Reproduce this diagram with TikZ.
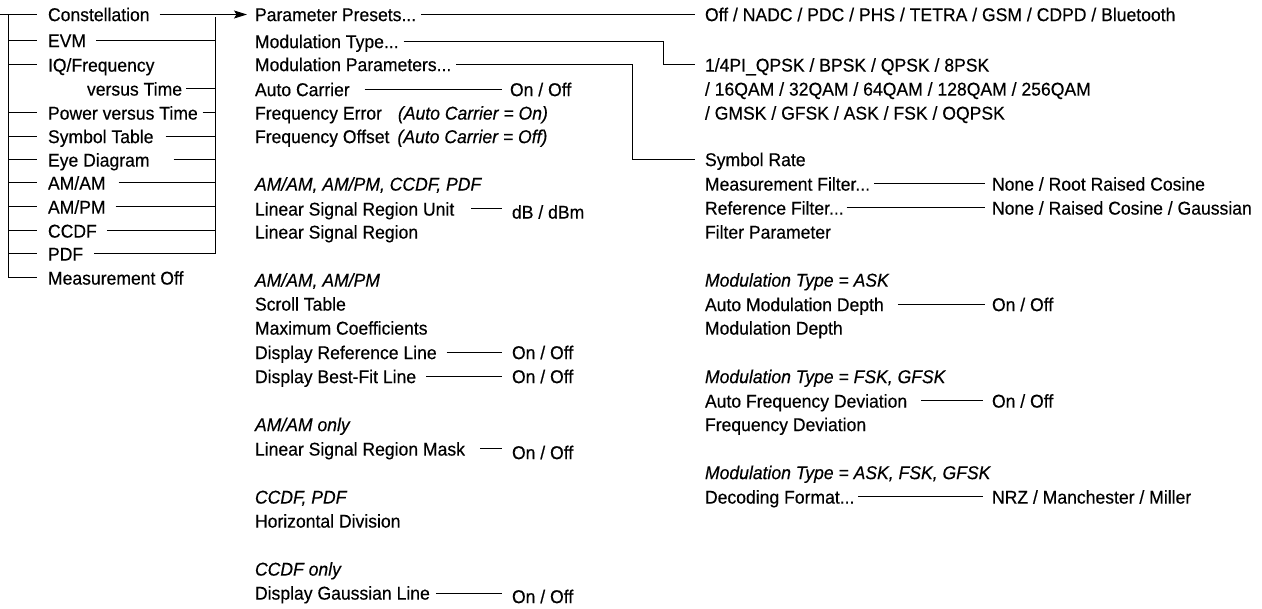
\documentclass[tikz,border=0pt]{standalone}
\usepackage{fontspec}
\setmainfont[FakeStretch=0.95,FakeBold=0.35]{Liberation Sans}
\usetikzlibrary{arrows.meta}
\begin{document}
\begin{tikzpicture}[x=1pt,y=-1pt,line width=1pt,
  every node/.style={font=\fontsize{18.5}{21}\selectfont,inner sep=0pt,outer sep=0pt,
    anchor=west,text height=13.2pt,text depth=0pt},
  it/.style={font=\fontsize{18.5}{21}\selectfont\itshape},
  arr/.style={-{Stealth[length=13pt,width=8pt,inset=2.5pt]}}]
\useasboundingbox[fill=white] (0,0) rectangle (1262,609);
% column 1
\node (c1) at (48,14.5) {Constellation};
\node (c2) at (48,40.5) {EVM};
\node (c3) at (48,65) {IQ/Frequency};
\node (c3b) at (87,89) {versus Time};
\node (c4) at (48,113) {Power versus Time};
\node (c5) at (48,136.5) {Symbol Table};
\node (c6) at (48,160) {Eye Diagram};
\node (c7) at (48,183) {AM/AM};
\node (c8) at (48,207) {AM/PM};
\node (c9) at (48,231) {CCDF};
\node (c10) at (48,254) {PDF};
\node (c11) at (48,278) {Measurement Off};
% column 2
\node (p0) at (255,14.5) {Parameter Presets...};
\node (p1) at (255,41.5) {Modulation Type...};
\node (p2) at (255,64.5) {Modulation Parameters...};
\node (p3) at (255,89.5) {Auto Carrier};
\node (p4) at (255,113) {Frequency Error};
\node[it] (p4n) at ([xshift=16pt]p4.east) {(Auto Carrier = On)};
\node (p5) at (255,136.5) {Frequency Offset};
\node[it] (p5n) at ([xshift=8pt]p5.east) {(Auto Carrier = Off)};
\node[it] (p7) at (255,184) {AM/AM, AM/PM, CCDF, PDF};
\node (p8) at (255,209) {Linear Signal Region Unit};
\node (p9) at (255,232) {Linear Signal Region};
\node[it] (p11) at (255,280) {AM/AM, AM/PM};
\node (p12) at (255,304) {Scroll Table};
\node (p13) at (255,328) {Maximum Coefficients};
\node (p14) at (255,352.5) {Display Reference Line};
\node (p15) at (255,376.5) {Display Best-Fit Line};
\node[it] (p17) at (255,424.5) {AM/AM only};
\node (p18) at (255,449) {Linear Signal Region Mask};
\node[it] (p20) at (255,497) {CCDF, PDF};
\node (p21) at (255,521) {Horizontal Division};
\node[it] (p23) at (255,569) {CCDF only};
\node (p24) at (255,593) {Display Gaussian Line};
% values of column 2
\node (v3) at (510,89.5) {On / Off};
\node (v8) at (512,212) {dB / dBm};
\node (v14) at (512,352.5) {On / Off};
\node (v15) at (512,376.5) {On / Off};
\node (v18) at (512,452.5) {On / Off};
\node (v24) at (512,596.5) {On / Off};
% column 3
\node (q0) at (705,14.5) {Off / NADC / PDC / PHS / TETRA / GSM / CDPD / Bluetooth};
\node (m1) at (705,65) {1/4PI\_QPSK / BPSK / QPSK / 8PSK};
\node (m2) at (705,89) {/ 16QAM / 32QAM / 64QAM / 128QAM / 256QAM};
\node (m3) at (705,113) {/ GMSK / GFSK / ASK / FSK / OQPSK};
\node (s6) at (705,159.5) {Symbol Rate};
\node (s7) at (705,184) {Measurement Filter...};
\node (s8) at (705,208) {Reference Filter...};
\node (s9) at (705,232) {Filter Parameter};
\node[it] (s11) at (705,280) {Modulation Type = ASK};
\node (s12) at (705,304.5) {Auto Modulation Depth};
\node (s13) at (705,328) {Modulation Depth};
\node[it] (s15) at (705,376.5) {Modulation Type = FSK, GFSK};
\node (s16) at (705,401) {Auto Frequency Deviation};
\node (s17) at (705,424.5) {Frequency Deviation};
\node[it] (s19) at (705,472.5) {Modulation Type = ASK, FSK, GFSK};
\node (s20) at (705,497) {Decoding Format...};
% column 4
\node (w7) at (992,184) {None / Root Raised Cosine};
\node (w8) at (992,208) {None / Raised Cosine / Gaussian};
\node (w12) at (992,304.5) {On / Off};
\node (w16) at (992,401) {On / Off};
\node (w20) at (992,497) {NRZ / Manchester / Miller};
% left bracket
\draw (0,0 |- c1.west) -- ([xshift=-11pt]c1.west);
\draw (8,0 |- c1.west) -- (8,0 |- c11.west) -- ([xshift=-11pt]c11.west);
\foreach \n in {c2,c3,c4,c5,c6,c7,c8,c9,c10}
  \draw (8,0 |- \n.west) -- ([xshift=-11pt]\n.west);
% right bracket
\coordinate (rb) at (215,17);
\foreach \n/\g in {c2/10,c3b/4,c4/5,c5/12,c6/24,c7/13,c8/10,c9/10}
  \draw ([xshift=\g pt]\n.east) -- (rb |- \n.east);
\draw ([xshift=11pt]c10.east) -- (rb |- c10.east) -- (rb);
\draw[arr] ([xshift=10pt]c1.east) -- ([xshift=-8pt]p0.west);
% column 2 connectors
\draw ([xshift=5pt]p0.east) -- ([xshift=-10pt]q0.west);
\draw ([xshift=5pt]p1.east) -- (663,0 |- p1.east) -- (663,0 |- m1.west) -- ([xshift=-10pt]m1.west);
\draw ([xshift=5pt]p2.east) -- (632,0 |- p2.east) -- (632,0 |- s6.west) -- ([xshift=-10pt]s6.west);
\draw ([xshift=15pt]p3.east) -- ([xshift=-8pt]v3.west);
\foreach \n/\v/\g in {p8/v8/17,p14/v14/10,p15/v15/10,p18/v18/15,p24/v24/6}
  \draw ([xshift=\g pt]\n.east) -- ([xshift=-10pt]\v.west |- \n.east);
% column 3 connectors
\foreach \n/\v/\g/\h in {s7/w7/4/7,s8/w8/3/7,s12/w12/14/7,s16/w16/14/9,s20/w20/4/9}
  \draw ([xshift=\g pt]\n.east) -- ([xshift=-\h pt]\v.west);
\end{tikzpicture}
\end{document}
